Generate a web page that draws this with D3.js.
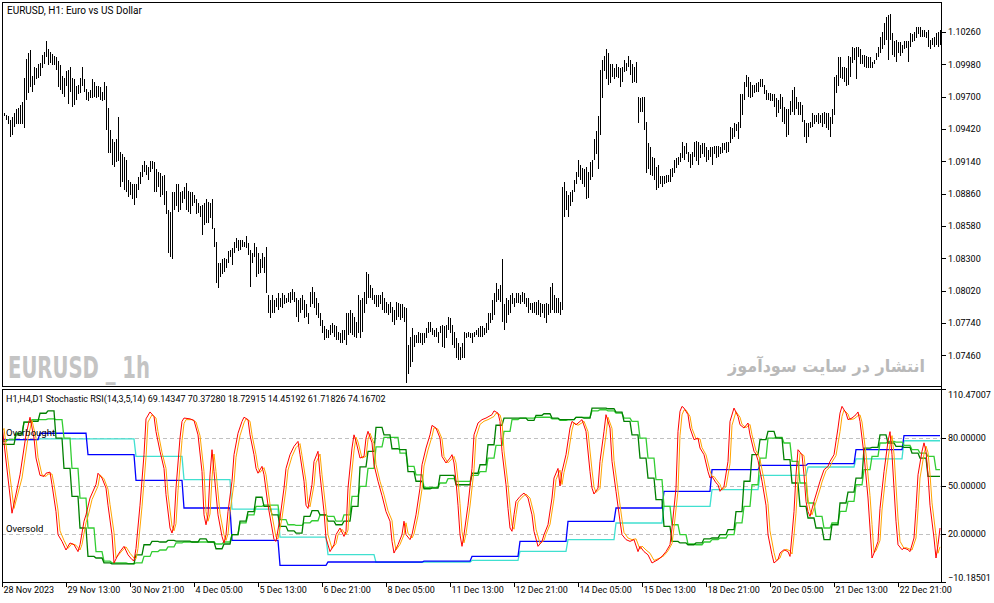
<!DOCTYPE html>
<html><head><meta charset="utf-8">
<script src="https://cdn.jsdelivr.net/npm/d3@7"></script>
<style>
body{margin:0;background:#fff;}
svg text{font-family:Roboto,"Liberation Sans",Arial,sans-serif;fill:#000;}
.ax text{font-size:9px;}
</style></head><body>
<svg id="c" width="994" height="603"></svg>
<script>
// ---------- DATA ----------
const highs = [
1.0957,1.0956,1.0954,1.0953,1.0950,1.0952,1.0956,1.0959,1.0960,1.0963,
1.0965,1.0986,1.1003,1.1008,1.1010,1.0988,1.0996,1.0995,1.0998,1.0999,
1.1006,1.1009,1.1018,1.1011,1.1009,1.1007,1.1005,1.1004,1.1001,1.0997,
1.0988,1.0986,1.0992,1.0993,1.0996,1.0986,1.0985,1.0979,1.0980,1.0986,
1.0996,1.0985,1.0977,1.0974,1.0976,1.0985,1.0983,1.0979,1.0979,1.0978,
1.0974,1.0983,1.0979,1.0960,1.0941,1.0933,1.0931,1.0933,1.0952,1.0922,
1.0920,1.0918,1.0915,1.0898,1.0896,1.0894,1.0894,1.0894,1.0900,1.0905,
1.0911,1.0914,1.0911,1.0909,1.0914,1.0914,1.0913,1.0907,1.0905,1.0904,
1.0901,1.0902,1.0888,1.0872,1.0870,1.0887,1.0887,1.0894,1.0894,1.0887,
1.0888,1.0892,1.0895,1.0888,1.0887,1.0887,1.0885,1.0881,1.0878,1.0875,
1.0876,1.0878,1.0881,1.0879,1.0878,1.0881,1.0856,1.0844,1.0826,1.0826,
1.0829,1.0830,1.0829,1.0836,1.0837,1.0839,1.0844,1.0848,1.0846,1.0846,
1.0846,1.0844,1.0849,1.0843,1.0837,1.0835,1.0843,1.0840,1.0835,1.0829,
1.0835,1.0831,1.0840,1.0798,1.0794,1.0798,1.0794,1.0796,1.0800,1.0796,
1.0800,1.0798,1.0796,1.0800,1.0801,1.0803,1.0801,1.0796,1.0794,1.0796,
1.0798,1.0794,1.0790,1.0783,1.0801,1.0805,1.0801,1.0796,1.0791,1.0783,
1.0777,1.0771,1.0769,1.0768,1.0772,1.0774,1.0772,1.0771,1.0766,1.0765,
1.0768,1.0768,1.0783,1.0783,1.0785,1.0783,1.0779,1.0775,1.0798,1.0794,
1.0796,1.0801,1.0818,1.0816,1.0807,1.0804,1.0798,1.0798,1.0798,1.0798,
1.0801,1.0796,1.0792,1.0790,1.0792,1.0788,1.0785,1.0792,1.0791,1.0790,
1.0790,1.0788,1.0787,1.0755,1.0762,1.0770,1.0764,1.0764,1.0766,1.0765,
1.0765,1.0765,1.0770,1.0775,1.0775,1.0770,1.0768,1.0770,1.0766,1.0771,
1.0772,1.0771,1.0772,1.0779,1.0778,1.0772,1.0766,1.0761,1.0757,1.0753,
1.0757,1.0766,1.0765,1.0766,1.0765,1.0765,1.0766,1.0768,1.0770,1.0771,
1.0771,1.0770,1.0774,1.0783,1.0783,1.0794,1.0800,1.0809,1.0803,1.0807,
1.0829,1.0790,1.0796,1.0794,1.0798,1.0800,1.0796,1.0800,1.0800,1.0798,
1.0801,1.0800,1.0796,1.0796,1.0791,1.0791,1.0792,1.0792,1.0794,1.0791,
1.0790,1.0790,1.0791,1.0790,1.0805,1.0809,1.0798,1.0796,1.0796,1.0792,
1.0892,1.0896,1.0888,1.0885,1.0887,1.0889,1.0898,1.0905,1.0915,1.0911,
1.0908,1.0907,1.0909,1.0905,1.0913,1.0915,1.0933,1.0940,1.0953,1.0993,
1.1002,1.1005,1.1011,1.1008,1.0998,1.0998,1.0995,1.0998,1.0996,1.0995,
1.0996,1.1002,1.0999,1.1005,1.1002,1.0998,1.0996,1.1000,1.0970,1.0969,
1.0970,1.0970,1.0948,1.0930,1.0926,1.0918,1.0917,1.0909,1.0911,1.0901,
1.0901,1.0901,1.0902,1.0902,1.0907,1.0908,1.0915,1.0917,1.0918,1.0921,
1.0931,1.0927,1.0930,1.0922,1.0920,1.0922,1.0931,1.0932,1.0931,1.0928,
1.0930,1.0930,1.0926,1.0924,1.0926,1.0926,1.0927,1.0927,1.0927,1.0926,
1.0930,1.0930,1.0931,1.0931,1.0944,1.0943,1.0947,1.0946,1.0948,1.0972,
1.0972,1.0983,1.0989,1.0987,1.0983,1.0980,1.0980,1.0982,1.0983,1.0985,
1.0985,1.0980,1.0976,1.0973,1.0973,1.0972,1.0972,1.0969,1.0967,1.0972,
1.0970,1.0961,1.0959,1.0959,1.0966,1.0976,1.0978,1.0970,1.0965,1.0965,
1.0963,1.0950,1.0947,1.0947,1.0948,1.0956,1.0954,1.0954,1.0956,1.0954,
1.0956,1.0957,1.0956,1.0956,1.0952,1.0959,1.0987,1.0989,1.1004,1.1004,
1.0996,1.0996,1.0995,1.1005,1.1004,1.1013,1.1012,1.1013,1.1013,1.1011,
1.1006,1.1006,1.1005,1.1004,1.1004,1.1000,1.1002,1.1008,1.1013,1.1022,
1.1026,1.1034,1.1039,1.1041,1.1042,1.1025,1.1018,1.1019,1.1017,1.1017,
1.1015,1.1018,1.1018,1.1018,1.1025,1.1024,1.1026,1.1030,1.1030,1.1030,
1.1028,1.1028,1.1026,1.1028,1.1019,1.1021,1.1022,1.1025,1.1026,1.1028];

const lows = [
1.0952,1.0953,1.0950,1.0946,1.0935,1.0937,1.0944,1.0946,1.0946,1.0946,
1.0946,1.0943,1.0967,1.0973,1.0978,1.0974,1.0980,1.0985,1.0986,1.0988,
1.0995,1.0998,1.1004,1.0997,1.0999,1.0997,1.0997,1.0993,1.0978,1.0976,
1.0972,1.0970,1.0979,1.0964,1.0974,1.0961,1.0963,1.0967,1.0972,1.0973,
1.0979,1.0974,1.0967,1.0966,1.0969,1.0969,1.0970,1.0969,1.0970,1.0967,
1.0966,1.0967,1.0941,1.0921,1.0921,1.0911,1.0909,1.0913,1.0914,1.0892,
1.0896,1.0889,1.0887,1.0883,1.0885,1.0881,1.0876,1.0882,1.0889,1.0894,
1.0900,1.0905,1.0902,1.0898,1.0905,1.0907,1.0887,1.0887,1.0892,1.0883,
1.0885,1.0876,1.0868,1.0835,1.0831,1.0829,1.0872,1.0875,1.0870,1.0872,
1.0878,1.0881,1.0872,1.0870,1.0868,1.0875,1.0878,1.0868,1.0869,1.0866,
1.0850,1.0859,1.0861,1.0861,1.0865,1.0855,1.0840,1.0809,1.0804,1.0814,
1.0816,1.0818,1.0822,1.0826,1.0831,1.0824,1.0835,1.0839,1.0836,1.0837,
1.0840,1.0840,1.0839,1.0833,1.0805,1.0826,1.0831,1.0814,1.0816,1.0817,
1.0822,1.0817,1.0800,1.0783,1.0778,1.0783,1.0783,1.0788,1.0785,1.0788,
1.0787,1.0790,1.0791,1.0792,1.0791,1.0794,1.0792,1.0779,1.0775,1.0783,
1.0785,1.0778,1.0779,1.0773,1.0788,1.0790,1.0787,1.0781,1.0778,1.0771,
1.0765,1.0759,1.0761,1.0761,1.0764,1.0765,1.0762,1.0759,1.0759,1.0757,
1.0757,1.0759,1.0755,1.0764,1.0765,1.0764,1.0762,1.0761,1.0765,1.0761,
1.0766,1.0783,1.0790,1.0796,1.0796,1.0794,1.0790,1.0788,1.0788,1.0790,
1.0785,1.0783,1.0783,1.0781,1.0783,1.0775,1.0772,1.0777,1.0779,1.0777,
1.0778,1.0775,1.0722,1.0730,1.0736,1.0740,1.0753,1.0757,1.0757,1.0757,
1.0755,1.0757,1.0761,1.0765,1.0766,1.0764,1.0762,1.0762,1.0757,1.0765,
1.0753,1.0752,1.0761,1.0768,1.0765,1.0755,1.0752,1.0744,1.0742,1.0742,
1.0744,1.0744,1.0761,1.0762,1.0761,1.0757,1.0762,1.0764,1.0762,1.0762,
1.0762,1.0764,1.0765,1.0768,1.0774,1.0777,1.0781,1.0792,1.0794,1.0792,
1.0775,1.0768,1.0774,1.0781,1.0783,1.0790,1.0788,1.0791,1.0791,1.0790,
1.0792,1.0790,1.0788,1.0783,1.0785,1.0783,1.0783,1.0781,1.0781,1.0779,
1.0783,1.0778,1.0774,1.0781,1.0783,1.0785,1.0783,1.0783,1.0783,1.0781,
1.0785,1.0866,1.0872,1.0866,1.0875,1.0879,1.0887,1.0894,1.0900,1.0898,
1.0894,1.0892,1.0881,1.0882,1.0898,1.0900,1.0915,1.0920,1.0907,1.0937,
1.0969,1.0992,1.0985,1.0980,1.0982,1.0987,1.0985,1.0987,1.0986,1.0978,
1.0983,1.0991,1.0992,1.0996,1.0989,1.0982,1.0983,1.0982,1.0947,1.0957,
1.0957,1.0941,1.0904,1.0907,1.0902,1.0901,1.0898,1.0889,1.0891,1.0894,
1.0892,1.0894,1.0895,1.0896,1.0896,1.0900,1.0904,1.0908,1.0911,1.0913,
1.0917,1.0915,1.0920,1.0913,1.0908,1.0911,1.0918,1.0914,1.0911,1.0917,
1.0920,1.0918,1.0913,1.0915,1.0918,1.0911,1.0920,1.0917,1.0918,1.0920,
1.0921,1.0924,1.0921,1.0922,1.0930,1.0933,1.0935,1.0940,1.0933,1.0943,
1.0954,1.0967,1.0978,1.0970,1.0969,1.0970,1.0973,1.0974,1.0974,1.0978,
1.0978,1.0972,1.0967,1.0967,1.0966,1.0966,1.0961,1.0952,1.0956,1.0959,
1.0948,1.0946,1.0935,1.0937,1.0954,1.0957,1.0954,1.0959,1.0954,1.0954,
1.0948,1.0935,1.0930,1.0935,1.0943,1.0944,1.0946,1.0948,1.0946,1.0947,
1.0944,1.0946,1.0943,1.0941,1.0935,1.0946,1.0954,1.0973,1.0979,1.0986,
1.0985,1.0983,1.0979,1.0980,1.0987,1.0999,1.1002,1.0985,1.1004,1.0998,
1.0998,1.0996,1.0995,1.0995,1.0995,1.0995,1.0998,1.1002,1.1004,1.1008,
1.1011,1.1015,1.1019,1.1002,1.1019,1.1006,1.1004,1.1000,1.1008,1.1005,
1.1008,1.1011,1.1012,1.1000,1.1013,1.1017,1.1018,1.1021,1.1024,1.1022,
1.1022,1.1022,1.1021,1.1013,1.1011,1.1015,1.1013,1.1015,1.1013,1.1015];

// H1 Stochastic RSI main (red) and signal (orange): [bar, value]
const h1Main = [[0,88],[5,33],[9,57],[12,82],[14,93],[16,80],[17,67.5],[19,56.7],[21,56],[22,58],[24,58.7],[25,50.8],[27,34],[28,19.6],[30,15.4],[32,10],[34,14.4],[36,13.3],[38,9],[39,13.3],[41,28],[42,32],[44,42.5],[47,51],[48,58],[50,55],[52,48.7],[53,38],[55,19.6],[56,1.9],[58,7],[59,9],[61,12.3],[63,7],[65,4],[66,3.3],[67,11],[69,38],[71,69.6],[72,92],[74,96.3],[76,93.5],[77,84],[79,71.7],[81,61],[82,44.6],[84,23.75],[85,20.6],[86,25.8],[87,48.7],[89,80],[90,90.4],[91,92.5],[94,92],[96,91],[98,82],[100,59],[101,32],[102,25.8],[103,32],[104,57],[105,72.7],[106,59],[108,32],[110,18.5],[111,14.4],[112,19.6],[113,34],[115,53],[116,69.6],[118,83],[120,90.4],[121,93],[123,91.5],[124,82],[126,69.6],[127,61],[128,58],[130,62.3],[131,57],[133,38],[135,23.75],[136,16.5],[137,15.4],[139,30],[141,48.7],[142,61],[144,69.6],[146,74.8],[148,77.9],[149,69.6],[151,53],[152,38],[153,36],[155,51],[156,65.4],[158,71.7],[159,57],[161,34],[162,17.5],[164,9],[166,13.3],[167,19.6],[169,23.75],[171,18.5],[172,21.7],[173,48.7],[175,73.75],[176,82],[177,78],[179,67.5],[181,68.5],[182,80],[183,84.2],[185,77],[186,63.3],[188,53],[190,44],[192,34],[194,28],[195,15.4],[196,8.1],[198,13.3],[200,19.6],[201,28],[202,19.6],[204,16.5],[205,19.6],[207,32],[209,48.7],[210,63.3],[212,73.75],[214,82],[215,87.9],[217,86.25],[219,80],[220,68.5],[222,64.4],[224,67.5],[225,69.6],[226,64.4],[227,53],[228,38],[229,19.6],[230,12.3],[231,19.6],[233,38],[235,61],[236,82],[238,89.4],[240,91.5],[242,92.5],[245,94.6],[246,97],[248,95.6],[249,90.4],[250,71.7],[252,50.8],[253,36],[254,23.75],[255,21.7],[256,32],[257,40.4],[259,43.5],[261,45.6],[263,42.5],[265,32],[266,21.7],[268,12.3],[270,15.4],[271,19.6],[273,25.8],[275,42.5],[276,55],[278,61],[279,50],[280,59],[282,69.6],[284,86.25],[285,90.4],[287,88.3],[289,90.4],[290,91.5],[292,84.2],[294,59],[295,48.7],[296,45],[298,48.7],[299,65.4],[301,84.2],[302,94.6],[304,86.25],[305,65.4],[307,46.7],[309,28],[310,19.6],[312,16.5],[314,15.4],[316,16.5],[318,9],[319,12.3],[321,9],[323,7],[325,1.9],[328,4],[330,6],[332,9],[334,13.3],[335,23.75],[337,48.7],[338,84.2],[339,96.7],[340,99.8],[341,98.75],[343,94.6],[344,86.25],[346,79],[348,80],[349,73.75],[351,69.6],[353,59],[354,55],[355,56],[357,52],[358,50.8],[359,46.7],[361,49.8],[363,65.4],[364,90.4],[366,98.75],[368,93.5],[369,88.3],[371,86.25],[373,89.4],[374,82],[376,71.7],[377,70],[378,66],[380,53],[382,38],[383,19.6],[385,7],[386,1.9],[388,4],[389,8.1],[391,10.2],[393,9],[394,6],[395,19.6],[396,34],[397,57],[398,72.7],[400,69.6],[401,57],[402,40.4],[403,34],[404,31],[406,40.4],[408,48.7],[409,53],[411,60.2],[413,62.3],[414,65.4],[416,69.6],[418,86.25],[419,95.6],[420,99.8],[422,95.6],[423,91.5],[425,92.5],[427,94.6],[428,96.3],[429,90.4],[431,69.6],[433,42.5],[434,23.75],[435,5],[436,8.1],[438,15.4],[439,36],[441,59],[443,78],[444,84],[445,69.6],[446,48.7],[447,28],[448,13.3],[450,10.2],[451,11.25],[453,10.2],[454,9],[456,17.5],[457,36],[458,57],[460,71.7],[461,77],[462,71.7],[463,57],[464,38],[466,17.5],[467,5],[468,13.3],[469,23.75]];

const h1Signal = [[0,84],[1,86],[6,36],[10,55],[13,80],[15,91],[17,80],[18,68],[20,57],[22,56],[23,57.5],[25,57.5],[26,51],[28,35],[29,22],[31,16],[33,11],[35,14],[37,13],[39,10],[40,13.5],[42,27],[43,31],[45,41.5],[48,50],[49,57],[51,54.5],[53,48],[54,38.5],[56,21],[57,5],[59,8],[60,9.5],[62,12],[64,8],[66,5],[67,4.5],[68,11],[70,37],[72,68],[73,90],[75,94.5],[77,92.5],[78,84],[80,71],[82,61],[83,45],[85,25],[86,22],[87,26.5],[88,47],[90,78.5],[91,89],[92,91.5],[95,91.5],[97,90],[99,81.5],[101,59],[102,34],[103,28],[104,32.5],[105,55],[106,70],[107,59],[109,33],[111,19.5],[112,16],[113,20],[114,33.5],[116,52],[117,68],[119,81.5],[121,89.5],[122,92],[124,90.5],[125,82],[127,69.5],[128,61.5],[129,58.5],[131,61.5],[132,57],[134,38.5],[136,25],[137,18],[138,17],[140,30],[142,48],[143,60],[145,68.5],[147,74],[149,76.5],[150,69],[152,53],[153,39],[154,37],[156,50.5],[157,64.5],[159,70],[160,57],[162,35],[163,19.5],[165,11],[167,14],[168,19.5],[170,23],[172,19.5],[173,22.5],[174,47.5],[176,72],[177,80.5],[178,77.5],[180,67.5],[182,68.5],[183,79],[184,83],[186,76.5],[187,63.5],[189,53],[191,44.5],[193,34.5],[195,28.5],[196,17],[197,10],[199,13.5],[201,19.5],[202,27],[203,20.5],[205,17.5],[206,20],[208,31.5],[210,48],[211,62.5],[213,72.5],[215,81],[216,86.5],[218,85.5],[220,79.5],[221,68.5],[223,64.5],[225,67],[226,68.5],[227,64.5],[228,53.5],[229,39],[230,21.5],[231,14.5],[232,20],[234,37.5],[236,60],[237,80.5],[239,88.5],[241,90.5],[243,91.5],[246,93.5],[247,95.5],[249,94.5],[250,90],[251,72],[253,51],[254,37],[255,25.5],[256,23],[257,32],[258,40],[260,43],[262,45],[264,42.5],[266,32.5],[267,23],[269,14],[271,16],[272,20],[274,26],[276,42],[277,54],[279,60],[280,51],[281,58.5],[283,69],[285,85],[286,89.5],[288,88],[290,89.5],[291,90.5],[293,84],[295,60],[296,49.5],[297,46],[299,48.5],[300,64],[302,82],[303,93],[305,86],[306,66],[308,47.5],[310,29],[311,21],[313,17.5],[315,16.5],[317,17],[319,10.5],[320,12.5],[322,10],[324,8],[326,3.5],[329,5],[331,6.5],[333,9.5],[335,14],[336,24],[338,47],[339,81.5],[340,94.5],[341,97.5],[342,97.5],[344,93.5],[345,86],[347,79.5],[349,79.5],[350,74],[352,69.5],[354,59.5],[355,56],[356,56],[358,52.5],[359,51],[360,47.5],[362,49.5],[364,64],[365,88],[367,96.5],[369,93],[370,88.5],[372,86.5],[374,88.5],[375,82],[377,72],[378,70],[379,66.5],[381,54],[383,39],[384,22],[386,8.5],[387,3.5],[389,5],[390,8.5],[392,10.5],[394,9.5],[395,7.5],[396,19],[397,33],[398,55],[399,70.5],[401,69],[402,57.5],[403,41.5],[404,35],[405,32],[407,40],[409,48],[410,52.5],[412,59.5],[414,62],[415,65],[417,69],[419,84],[420,93.5],[421,97.5],[423,95],[424,91.5],[426,92],[428,94],[429,94.5],[430,90],[432,70],[434,44],[435,26],[436,8.5],[437,9.5],[439,16],[440,35],[442,57.5],[444,76],[445,81.5],[446,70],[447,50],[448,30],[449,15.5],[451,11],[452,11.5],[454,10.5],[455,10],[457,17.5],[458,35],[459,55],[461,70],[462,75],[463,71],[464,57.5],[465,39.5],[467,19],[468,8],[469,12]];

// H4 Stochastic RSI per H4 bar (dark green main, light green signal)
const h4Main = [76,76,82,90,90.5,95.5,97,80,61,43.5, 23.75,6,5,2,1.3,1.3,1.3,7,13.3,15.4,
 15,16,15.5,15.5,15,17,15,10.8,13.75,19.6, 28,34,43,37.3,32,24.8,22,20.6,31,34.6,
 32,28,25.8,28,37.3,62,71.7,86.7,82,73.3, 72.7,59,53,48.3,48.75,56.7,56.7,50.8,50.8,58,
 63.3,75.8,88,92.5,92.5,92.5,91,94.2,95.2,92.5, 91.5,91.5,92.9,92.5,98.75,98.75,98.3,96.25,90.4,82,
 67.5,55,41.5,24.8,15.4,14.4,13.3,14.4,17,17.5, 19.6,22.7,34,53,69.6,79,84.2,80,66.5,51.9,
 37.3,30,23.75,16.5,25.8,39.4,46.25,55,73.75,74.2, 82,76.9,74.8,74.2,70.6,67.5,56,56];
const h4Signal = [78,79,83,90,91.5,91.5,92,91.5,80,61, 42.5,23.75,9,3,2,2,1.5,2,6,9,
 10,12,14.4,15,15,15,15,13.75,15,19.6, 27,32,37.3,38,38,29,25.8,25.4,27,28.3,
 32,31,28,32,43.5,49.8,61,74.5,80.4,80.4, 70.6,62.3,57,49.2,49.2,51.9,54.6,52.9,52.9,56.7,
 59,67.5,75.4,84.2,91.5,92.5,92.5,93,93,92, 91,91.5,92.9,92.9,97,97.7,97,95.6,92.5,90.4,
 80,67.5,54,37.3,25.8,19.6,13.75,13.3,15,16.5, 17.5,19.6,27,37.3,50.8,67.5,80,80.4,76.9,65.4,
 51.9,39.4,31,23.75,26.9,34.2,40.4,50.8,60.2,68.5, 76.9,77.9,77.5,75.4,72.7,70.6,68.5,60.2];

// D1 Stochastic RSI per day (blue main, turquoise signal)
const dayStart = [0,19,43,67,91,115,139,163,187,211,235,259,283,307,331,355,379,403,427,451];
const d1Main   = [79,83,69.6,53.5,36.25,16,0.4,2.5,2.5,3,6,15.4,27.9,36.25,46.7,60.2,62.9,64,72.7,81.5];
const d1Signal = [79,79.5,79.5,68.5,54,35.6,18.1,7.1,2.3,2.5,3.5,9.2,16.5,26.9,37.3,47.7,56.7,61.9,67,78.3];

const priceTicks = [1.10260,1.09980,1.09700,1.09420,1.09140,1.08860,1.08580,1.08300,1.08020,1.07740,1.07460];
const indTicks = [110.47007,80,50,20,-10.18501];
const levels = [80,50,20];
const timeTickBars = [0,32,64,96,128,160,192,224,256,288,320,352,384,416,448];
const timeTickLabels = ["28 Nov 2023","29 Nov 13:00","30 Nov 21:00","4 Dec 05:00","5 Dec 13:00","6 Dec 21:00","8 Dec 05:00","11 Dec 13:00","12 Dec 21:00","14 Dec 05:00","15 Dec 13:00","18 Dec 21:00","20 Dec 05:00","21 Dec 13:00","22 Dec 21:00"];

// ---------- CHART ----------
const svg = d3.select("#c");
const nBars = highs.length;
const L = 2, R = 941, T = 2, PB = 386, ST = 389, SB = 582;
const x = d3.scaleLinear().domain([0, nBars - 1]).range([2, 940]);
const yP = d3.scaleLinear().domain([1.0746, 1.1026]).range([355.3, 32]);
const yI = d3.scaleLinear().domain([-10.18501, 110.47007]).range([582.3, 389.3]);

const defs = svg.append("defs");
defs.append("clipPath").attr("id","cp").append("rect").attr("x",L).attr("y",T).attr("width",R-L).attr("height",PB-T);
defs.append("clipPath").attr("id","ci").append("rect").attr("x",L).attr("y",ST).attr("width",R-L).attr("height",SB-ST);

// watermarks
svg.append("text").attr("x",8).attr("y",378)
  .attr("textLength",142).attr("lengthAdjust","spacingAndGlyphs")
  .style("font-family","'Liberation Sans Narrow','DejaVu Sans Condensed','Liberation Sans',sans-serif")
  .style("font-weight","bold").style("font-size","31px").style("fill","#c4c4c4")
  .text("EURUSD _ 1h");
svg.append("text").attr("x",925).attr("y",372).attr("text-anchor","end")
  .attr("textLength",197).attr("lengthAdjust","spacingAndGlyphs")
  .style("font-family","'DejaVu Sans',sans-serif").style("font-weight","bold")
  .style("font-size","17px").style("fill","#b9b9b9")
  .text("انتشار در سایت سودآموز");

// price bars
svg.append("g").attr("clip-path","url(#cp)").attr("shape-rendering","crispEdges")
  .selectAll("rect").data(d3.range(nBars)).join("rect")
  .attr("x", i => Math.round(x(i)))
  .attr("width", 1)
  .attr("y", i => Math.round(yP(highs[i])))
  .attr("height", i => Math.max(1, Math.round(yP(lows[i])) - Math.round(yP(highs[i]))))
  .attr("fill", "#000");

// indicator level lines
const gi = svg.append("g").attr("clip-path","url(#ci)");
gi.selectAll("line.lv").data(levels).join("line")
  .attr("x1",L).attr("x2",R).attr("y1",d=>Math.round(yI(d))+0.5).attr("y2",d=>Math.round(yI(d))+0.5)
  .attr("stroke","#c0c0c0").attr("stroke-dasharray","4,3");

const dayOf = i => d3.bisectRight(dayStart, i) - 1;
const h4Of = i => i < 3 ? 0 : Math.floor((i - 3) / 4) + 1;
const perBar = (arr, idx) => d3.range(nBars).map(i => [i, arr[idx(i)]]);
const line = d3.line().x(d => x(d[0])).y(d => yI(d[1]));

const series = [
  {data: perBar(d1Signal, dayOf), color: "#40e0d0", w: 1.3},
  {data: perBar(d1Main, dayOf), color: "#0000ff", w: 1.3},
  {data: perBar(h4Signal, h4Of), color: "#32cd32", w: 1.3},
  {data: perBar(h4Main, h4Of), color: "#008000", w: 1.3},
  {data: h1Signal, color: "#ffa500", w: 1},
  {data: h1Main, color: "#ff0000", w: 1}
];
gi.selectAll("path.s").data(series).join("path")
  .attr("d", d => line(d.data)).attr("fill","none")
  .attr("stroke", d => d.color).attr("stroke-width", d => d.w);

// level captions
svg.append("text").attr("x",6).attr("y",yI(80)-2.5).style("font-size","9.5px").text("Overbought");
svg.append("text").attr("x",6).attr("y",yI(20)-2.5).style("font-size","9.5px").text("Oversold");

// frames
const fr = svg.append("g").attr("stroke","#000").attr("shape-rendering","crispEdges").attr("fill","none");
fr.append("line").attr("x1",L).attr("x2",R+1).attr("y1",T+0.5).attr("y2",T+0.5);
fr.append("line").attr("x1",L+0.5).attr("x2",L+0.5).attr("y1",T).attr("y2",PB+1);
fr.append("line").attr("x1",L).attr("x2",R+1).attr("y1",PB+0.5).attr("y2",PB+0.5);
fr.append("line").attr("x1",L).attr("x2",R+1).attr("y1",ST+0.5).attr("y2",ST+0.5);
fr.append("line").attr("x1",L+0.5).attr("x2",L+0.5).attr("y1",ST).attr("y2",SB+1);
fr.append("line").attr("x1",L).attr("x2",R+1).attr("y1",SB+0.5).attr("y2",SB+0.5);
fr.append("line").attr("x1",R+0.5).attr("x2",R+0.5).attr("y1",T).attr("y2",SB+1);

// price axis
const axP = svg.append("g").attr("class","ax").attr("transform",`translate(${R+1},0)`)
  .call(d3.axisRight(yP).tickValues(priceTicks).tickSize(4).tickPadding(2).tickFormat(d3.format(".5f")));
axP.select(".domain").remove();
axP.selectAll(".tick line").attr("stroke","#000").attr("shape-rendering","crispEdges");

// indicator axis
const axI = svg.append("g").attr("class","ax").attr("transform",`translate(${R+1},0)`)
  .call(d3.axisRight(yI).tickValues(indTicks).tickSize(4).tickPadding(2).tickFormat(d3.format(".5f")));
axI.select(".domain").remove();
axI.selectAll(".tick line").attr("stroke","#000").attr("shape-rendering","crispEdges");
axI.selectAll(".tick text").attr("dy", d => d === indTicks[0] ? "0.95em" : (d === indTicks[indTicks.length-1] ? "-0.2em" : "0.32em"));

// time axis
const axT = svg.append("g").attr("class","ax").attr("transform",`translate(0,${SB+1})`)
  .call(d3.axisBottom(x).tickValues(timeTickBars).tickSize(4).tickPadding(1)
    .tickFormat((d,k) => timeTickLabels[k]));
axT.select(".domain").remove();
axT.selectAll(".tick line").attr("stroke","#000").attr("shape-rendering","crispEdges");
axT.selectAll(".tick text").attr("text-anchor","start").attr("x",1).attr("dy","0.6em");

// titles
svg.append("text").attr("x",7).attr("y",14).style("font-size","10px").text("EURUSD, H1:  Euro vs US Dollar");
svg.append("text").attr("x",6).attr("y",401.5).style("font-size","9px")
  .text("H1,H4,D1 Stochastic RSI(14,3,5,14) 69.14347 70.37280 18.72915 14.45192 61.71826 74.16702");
</script>
</body></html>
